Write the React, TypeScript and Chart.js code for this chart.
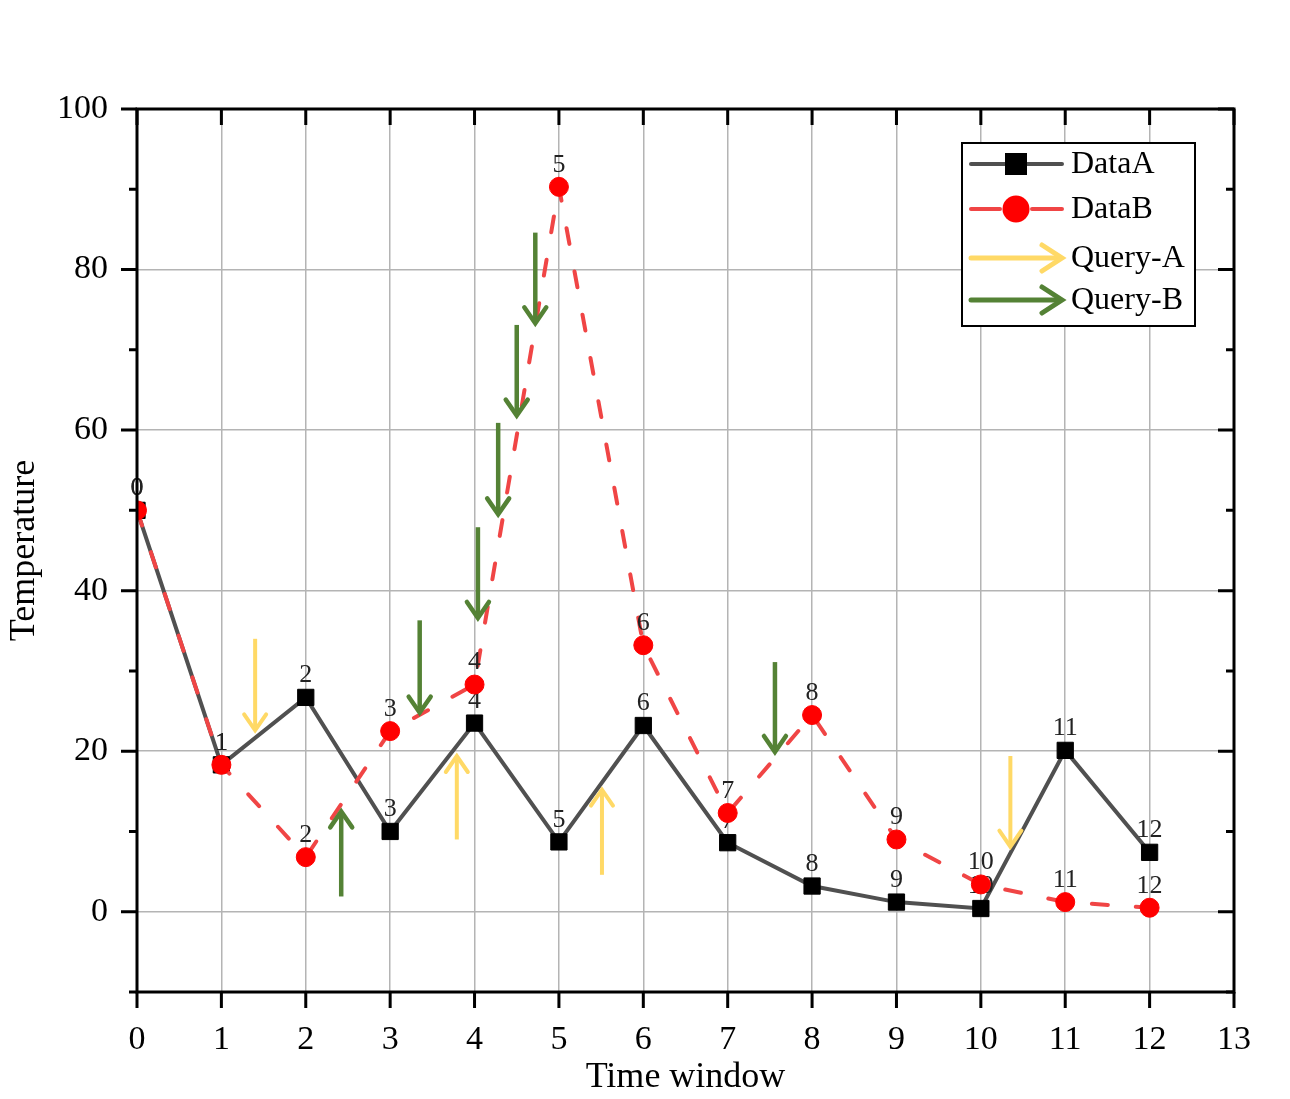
import { useEffect, useRef } from 'react';
import { Chart, registerables } from 'chart.js';

Chart.register(...registerables);

// time windows (x) and the two series
const timeWindows = [0, 1, 2, 3, 4, 5, 6, 7, 8, 9, 10, 11, 12];
const dataA = [50, 18.3, 26.7, 10, 23.5, 8.7, 23.2, 8.6, 3.2, 1.2, 0.4, 20.1, 7.4];
const dataB = [50, 18.3, 6.8, 22.5, 28.3, 90.3, 33.2, 12.3, 24.5, 9, 3.4, 1.2, 0.5];

// query arrows: x position, start value, tip value
const queryAX = [1.4, 3.79, 5.51, 10.35];
const queryAFrom = [34, 9, 4.6, 19.4];
const queryATo = [22.6, 19.4, 15.2, 8.1];

const queryBX = [2.42, 3.35, 4.04, 4.28, 4.5, 4.72, 7.56];
const queryBFrom = [1.9, 36.3, 47.9, 60.9, 73.1, 84.6, 31.1];
const queryBTo = [12.5, 24.8, 36.6, 49.5, 61.8, 73.3, 19.9];

const xTicks = [0, 1, 2, 3, 4, 5, 6, 7, 8, 9, 10, 11, 12, 13];
const yMajor = [0, 20, 40, 60, 80, 100];
const yMinor = [-10, 10, 30, 50, 70, 90];

const legendNames = ['DataA', 'DataB', 'Query-A', 'Query-B'];

const FONT = "'Liberation Serif', 'Times New Roman', serif";
const GRAY = '#505050';
const RED_LINE = '#F04545';
const RED = '#FF0000';
const YELLOW = '#FFD966';
const GREEN = '#548235';

function drawArrow(ctx: CanvasRenderingContext2D, x: number, y0: number, y1: number, color: string, w: number) {
  const dir = y1 > y0 ? 1 : -1;
  ctx.save();
  ctx.strokeStyle = color;
  ctx.lineWidth = w;
  ctx.lineCap = 'butt';
  ctx.beginPath();
  ctx.moveTo(x, y0);
  ctx.lineTo(x, y1 - dir * 2);
  ctx.stroke();
  ctx.lineCap = 'round';
  ctx.lineJoin = 'miter';
  ctx.beginPath();
  ctx.moveTo(x - 11, y1 - dir * 16);
  ctx.lineTo(x, y1);
  ctx.lineTo(x + 11, y1 - dir * 16);
  ctx.stroke();
  ctx.restore();
}

function drawHArrow(ctx: CanvasRenderingContext2D, x0: number, x1: number, y: number, color: string) {
  ctx.save();
  ctx.strokeStyle = color;
  ctx.lineWidth = 5;
  ctx.lineCap = 'round';
  ctx.beginPath();
  ctx.moveTo(x0, y);
  ctx.lineTo(x1 - 3, y);
  ctx.stroke();
  ctx.beginPath();
  ctx.moveTo(x1 - 20, y - 13);
  ctx.lineTo(x1, y);
  ctx.lineTo(x1 - 20, y + 13);
  ctx.stroke();
  ctx.restore();
}

const decorPlugin = {
  id: 'decor',
  afterDatasetDraw(chart: any, args: any) {
    const ctx = chart.ctx as CanvasRenderingContext2D;
    ctx.save();
    ctx.fillStyle = '#222';
    ctx.font = `26px ${FONT}`;
    ctx.textAlign = 'center';
    ctx.textBaseline = 'middle';
    args.meta.data.forEach((el: any, i: number) => {
      ctx.fillText(String(timeWindows[i]), el.x, el.y - 22);
    });
    ctx.restore();
  },
  afterDatasetsDraw(chart: any) {
    const ctx = chart.ctx as CanvasRenderingContext2D;
    const { left, right, top, bottom } = chart.chartArea;
    const xs = chart.scales.x;
    const ys = chart.scales.y;

    queryAX.forEach((v, i) => {
      drawArrow(ctx, xs.getPixelForValue(v), ys.getPixelForValue(queryAFrom[i]), ys.getPixelForValue(queryATo[i]), YELLOW, 4);
    });
    queryBX.forEach((v, i) => {
      drawArrow(ctx, xs.getPixelForValue(v), ys.getPixelForValue(queryBFrom[i]), ys.getPixelForValue(queryBTo[i]), GREEN, 4.5);
    });

    // frame + ticks
    ctx.save();
    ctx.strokeStyle = '#000';
    ctx.lineWidth = 3;
    ctx.lineCap = 'square';
    ctx.strokeRect(left, top, right - left, bottom - top);
    ctx.lineCap = 'butt';
    ctx.beginPath();
    xTicks.forEach((v) => {
      const px = xs.getPixelForValue(v);
      ctx.moveTo(px, bottom);
      ctx.lineTo(px, bottom + 16);
      ctx.moveTo(px, top);
      ctx.lineTo(px, top + 16);
    });
    yMajor.forEach((v) => {
      const py = ys.getPixelForValue(v);
      ctx.moveTo(left - 16, py);
      ctx.lineTo(left, py);
      ctx.moveTo(right - 16, py);
      ctx.lineTo(right, py);
    });
    yMinor.forEach((v) => {
      const py = ys.getPixelForValue(v);
      ctx.moveTo(left - 8, py);
      ctx.lineTo(left, py);
      ctx.moveTo(right - 8, py);
      ctx.lineTo(right, py);
    });
    ctx.stroke();
    ctx.restore();
  },
  afterDraw(chart: any) {
    const ctx = chart.ctx as CanvasRenderingContext2D;
    const bx = 962, by = 143, bw = 233, bh = 183;
    ctx.save();
    ctx.fillStyle = '#fff';
    ctx.fillRect(bx, by, bw, bh);
    ctx.strokeStyle = '#000';
    ctx.lineWidth = 2;
    ctx.strokeRect(bx, by, bw, bh);

    const rows = [164, 209, 258, 300];
    const lx0 = 971, lx1 = 1062, mx = 1016;

    // DataA
    ctx.strokeStyle = GRAY;
    ctx.lineWidth = 4;
    ctx.lineCap = 'round';
    ctx.beginPath();
    ctx.moveTo(lx0, rows[0]);
    ctx.lineTo(lx1, rows[0]);
    ctx.stroke();
    ctx.fillStyle = '#000';
    ctx.fillRect(mx - 11, rows[0] - 11, 22, 22);

    // DataB
    ctx.strokeStyle = RED_LINE;
    ctx.beginPath();
    ctx.moveTo(lx0, rows[1]);
    ctx.lineTo(1000, rows[1]);
    ctx.moveTo(1032, rows[1]);
    ctx.lineTo(lx1, rows[1]);
    ctx.stroke();
    ctx.fillStyle = RED;
    ctx.beginPath();
    ctx.arc(mx, rows[1], 13.5, 0, Math.PI * 2);
    ctx.fill();

    drawHArrow(ctx, lx0, lx1, rows[2], YELLOW);
    drawHArrow(ctx, lx0, lx1, rows[3], GREEN);

    ctx.fillStyle = '#000';
    ctx.font = `32px ${FONT}`;
    ctx.textAlign = 'left';
    ctx.textBaseline = 'middle';
    legendNames.forEach((n, i) => ctx.fillText(n, 1071, rows[i] + 1));
    ctx.restore();
  },
};

export default function App() {
  const canvasRef = useRef<HTMLCanvasElement>(null);
  const chartRef = useRef<Chart | null>(null);

  useEffect(() => {
    if (!canvasRef.current) return;
    if (chartRef.current) chartRef.current.destroy();

    chartRef.current = new Chart(canvasRef.current, {
      type: 'line',
      data: {
        datasets: [
          {
            label: 'DataA',
            data: timeWindows.map((t, i) => ({ x: t, y: dataA[i] })),
            borderColor: GRAY,
            borderWidth: 4,
            pointStyle: 'rect',
            pointRadius: 11.5,
            pointBackgroundColor: '#000',
            pointBorderColor: '#000',
            pointBorderWidth: 1,
            tension: 0,
            order: 2,
          },
          {
            label: 'DataB',
            data: timeWindows.map((t, i) => ({ x: t, y: dataB[i] })),
            borderColor: RED_LINE,
            borderWidth: 4,
            borderDash: [16, 28],
            borderCapStyle: 'round',
            pointStyle: 'circle',
            pointRadius: 9.5,
            pointBackgroundColor: RED,
            pointBorderColor: RED,
            pointBorderWidth: 1,
            tension: 0,
            order: 1,
          },
        ],
      },
      options: {
        responsive: false,
        animation: false,
        layout: { padding: { left: 0, top: 109, right: 56, bottom: 0 } },
        plugins: {
          legend: { display: false },
          tooltip: { enabled: false },
        },
        scales: {
          x: {
            type: 'linear',
            min: 0,
            max: 13,
            afterFit: (s: any) => {
              s.height = 107;
            },
            border: { display: false },
            grid: { color: '#b4b4b4', lineWidth: 1.5, drawTicks: false },
            ticks: {
              stepSize: 1,
              padding: 28,
              color: '#000',
              font: { family: FONT, size: 34 },
              maxRotation: 0,
            },
            title: {
              display: true,
              text: 'Time window',
              color: '#000',
              font: { family: FONT, size: 36 },
              padding: { top: 0, bottom: 0 },
            },
          },
          y: {
            type: 'linear',
            min: -10,
            max: 100,
            afterFit: (s: any) => {
              s.width = 137;
            },
            border: { display: false },
            grid: {
              color: (c: any) => (c.tick && c.tick.value % 20 === 0 ? '#b4b4b4' : 'rgba(0,0,0,0)'),
              lineWidth: 1.5,
              drawTicks: false,
            },
            ticks: {
              stepSize: 10,
              padding: 29,
              color: '#000',
              font: { family: FONT, size: 34 },
              callback: (v: any) => (Number(v) % 20 === 0 ? String(v) : ''),
            },
            title: {
              display: true,
              text: 'Temperature',
              color: '#000',
              font: { family: FONT, size: 36 },
              padding: { top: 3, bottom: 0 },
            },
          },
        },
      },
      plugins: [decorPlugin],
    } as any);

    return () => {
      if (chartRef.current) {
        chartRef.current.destroy();
        chartRef.current = null;
      }
    };
  }, []);

  return (
    <div style={{ position: 'absolute', left: 0, top: 0, width: 1290, height: 1099, background: '#fff' }}>
      <canvas ref={canvasRef} width={1290} height={1099} style={{ width: 1290, height: 1099 }} />
    </div>
  );
}
